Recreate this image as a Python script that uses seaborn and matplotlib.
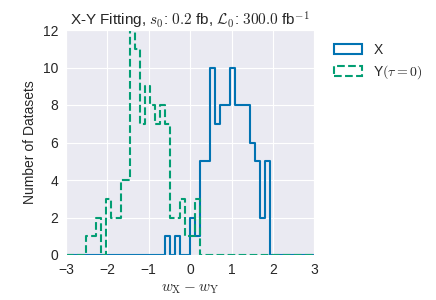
import numpy as np
import pandas as pd
import matplotlib
matplotlib.use("Agg")
import matplotlib.pyplot as plt
from matplotlib.patches import Patch
import seaborn as sns

# histogram: 50 bins over [-3, 3]
n_bins = 50
x_counts = [0] * 20 + [1, 0, 1, 0, 0, 2, 1, 5, 5, 10, 7, 8, 8, 10, 8, 8, 8, 6, 5, 2, 5] + [0] * 9
y_counts = [0, 0, 0, 0, 1, 1, 2, 0, 3, 2, 2, 4, 4, 12, 11, 7, 9, 8, 7, 8, 7, 2, 2, 3, 1, 1, 3] + [0] * 23
labels = ["X", r"Y$(\tau=0)$"]

sns.set_style("darkgrid")
plt.rcParams["font.family"] = ["Liberation Sans", "DejaVu Sans"]
plt.rcParams["mathtext.fontset"] = "cm"

blue = sns.color_palette("colorblind")[0]
green = sns.color_palette("colorblind")[2]

edges = np.linspace(-3, 3, n_bins + 1)
df = pd.DataFrame({"w": 0.5 * (edges[:-1] + edges[1:]), "x": x_counts, "y": y_counts})

fig = plt.figure(figsize=(4.36, 3.0), dpi=100)
ax = fig.add_axes([0.151, 0.15, 0.57, 0.75])

sns.histplot(data=df, x="w", weights="x", bins=n_bins, binrange=(-3, 3), element="step",
             fill=False, color=blue, linewidth=1.5, ax=ax)
sns.histplot(data=df, x="w", weights="y", bins=n_bins, binrange=(-3, 3), element="step",
             fill=False, color=green, linewidth=1.5, linestyle="--", ax=ax)

ax.set_xlim(-3, 3)
ax.set_ylim(0, 12)
ax.set_xticks(range(-3, 4))
ax.set_yticks(range(0, 13, 2))
ax.tick_params(labelsize=10, pad=2)
ax.set_xlabel(r"$w_{\rm X} - w_{\rm Y}$", fontsize=11)
ax.set_ylabel("Number of Datasets", fontsize=10)
ax.set_title(r"X-Y Fitting, $s_0$: $0.2$ fb, $\mathcal{L}_0$: $300.0$ fb$^{-1}$",
             fontsize=11, pad=3)

handles = [Patch(facecolor="none", edgecolor=blue, linewidth=1.5),
           Patch(facecolor="none", edgecolor=green, linewidth=1.5, linestyle="--")]
ax.legend(handles, labels, loc="upper left", bbox_to_anchor=(1.03, 1.0),
          frameon=False, fontsize=10)

fig.savefig("out.png", dpi=100)
